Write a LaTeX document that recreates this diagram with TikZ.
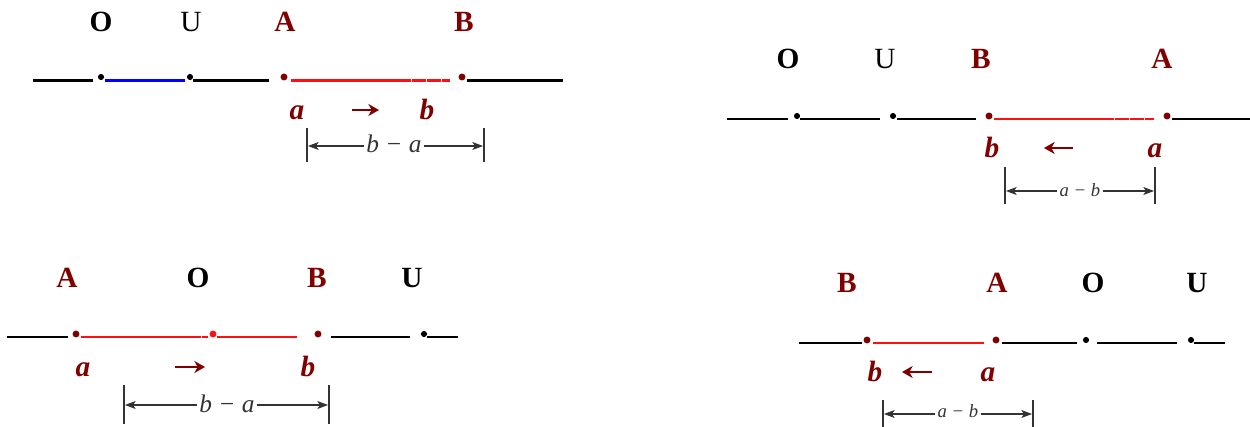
\documentclass[tikz,border=0pt]{standalone}
\usepackage{fontspec}
\setmainfont{Liberation Serif}
\usetikzlibrary{arrows.meta}
\definecolor{maroonA}{HTML}{800000}
\definecolor{segred}{HTML}{FF1010}
\definecolor{dimgray}{HTML}{333333}

\begin{document}
\begin{tikzpicture}[x=0.75pt,y=-0.75pt,
  pt/.style={font=\fontsize{22}{24}\selectfont\bfseries,anchor=base,inner sep=0pt},
  ptr/.style={pt,text=maroonA},
  var/.style={font=\fontsize{22}{24}\selectfont\bfseries\itshape,text=maroonA,anchor=base,inner sep=0pt},
  seg/.style={line width=1.6pt,dash pattern=on 11pt off 0.3pt},
  mv/.style={draw=maroonA,line width=2.1pt,-{Stealth[length=8pt,width=9pt,inset=2.5pt]}},
  dimlab/.style={font=\fontsize{19}{22}\selectfont\itshape,text=dimgray,anchor=base,inner sep=1.5pt},
  dimlabs/.style={dimlab,font=\fontsize{14}{16}\selectfont\itshape},
  dim/.style={draw=dimgray,line width=0.8pt,-{Stealth[length=8pt,width=6pt,inset=2pt]}},
  bar/.style={draw=dimgray,line width=0.9pt}]
\useasboundingbox (0,0) rectangle (1250,427);

% top left: O U A B
\draw[seg] (33,80.5) -- (93,80.5);
\fill (101,77) circle (2.3pt);
\draw[seg,blue] (105,80.5) -- (185,80.5);
\fill (190,77) circle (2.3pt);
\draw[seg] (193,80.5) -- (269,80.5);
\fill[maroonA] (284,77) circle (2.6pt);
\draw[seg,segred] (291,80.5) -- (450,80.5);
\fill[maroonA] (462,77) circle (2.6pt);
\draw[seg] (467,80.5) -- (563,80.5);
\node[pt] (O1) at (101,32) {O};
\node[pt] (U1) at (191,32) {\mdseries U};
\node[ptr] (A1) at (285,32) {A};
\node[ptr] (B1) at (464,32) {B};
\node[var] (a1) at (297,120) {a};
\node[var] (b1) at (427,120) {b};
\coordinate (mv1s) at (352,110);
\coordinate (mv1e) at (379,110);
\draw[mv] (mv1s) -- (mv1e);
\draw[bar] (307,128) -- (307,162);
\draw[bar] (484,128) -- (484,162);
\coordinate (l1) at (308,146);
\coordinate (r1) at (483,146);
\node[dimlab] (d1) at (394,153) {b − a};
\draw[dim] (d1.west |- l1) -- (l1);
\draw[dim] (d1.east |- r1) -- (r1);

% top right: O U B A
\draw[seg] (727,119) -- (788,119);
\fill (797,116) circle (2.3pt);
\draw[seg] (800,119) -- (880,119);
\fill (893,116) circle (2.3pt);
\draw[seg] (897,119) -- (976,119);
\fill[maroonA] (989,116) circle (2.6pt);
\draw[seg,segred] (994,119) -- (1154,119);
\fill[maroonA] (1167,116) circle (2.6pt);
\draw[seg] (1172,119) -- (1250,119);
\node[pt] (O2) at (788,69) {O};
\node[pt] (U2) at (885,69) {\mdseries U};
\node[ptr] (B2) at (981,69) {B};
\node[ptr] (A2) at (1162,69) {A};
\node[var] (b2) at (992,158) {b};
\node[var] (a2) at (1155,158) {a};
\coordinate (mv2s) at (1073,148);
\coordinate (mv2e) at (1044,148);
\draw[mv] (mv2s) -- (mv2e);
\draw[bar] (1005,167) -- (1005,204);
\draw[bar] (1155,167) -- (1155,204);
\coordinate (l2) at (1006,191);
\coordinate (r2) at (1154,191);
\node[dimlabs] (d2) at (1080,197) {a − b};
\draw[dim] (d2.west |- l2) -- (l2);
\draw[dim] (d2.east |- r2) -- (r2);

% bottom left: A O B U
\draw[seg] (7,337) -- (68,337);
\fill[maroonA] (76,334) circle (2.6pt);
\draw[seg,segred] (81,337) -- (208,337);
\fill[segred] (213,334) circle (2.6pt);
\draw[seg,segred] (217,337) -- (297,337);
\fill[maroonA] (318,334) circle (2.6pt);
\draw[seg] (331,337) -- (410,337);
\fill (424,334) circle (2.3pt);
\draw[seg] (427,337) -- (458,337);
\node[ptr] (A3) at (67,288) {A};
\node[pt] (O3) at (198,288) {O};
\node[ptr] (B3) at (317,288) {B};
\node[pt] (U3) at (412,288) {U};
\node[var] (a3) at (83,377) {a};
\node[var] (b3) at (308,377) {b};
\coordinate (mv3s) at (175,367);
\coordinate (mv3e) at (205,367);
\draw[mv] (mv3s) -- (mv3e);
\draw[bar] (124,385) -- (124,424);
\draw[bar] (329,385) -- (329,424);
\coordinate (l3) at (125,405);
\coordinate (r3) at (328,405);
\node[dimlab] (d3) at (227,413) {b − a};
\draw[dim] (d3.west |- l3) -- (l3);
\draw[dim] (d3.east |- r3) -- (r3);

% bottom right: B A O U
\draw[seg] (799,343) -- (862,343);
\fill[maroonA] (867,340) circle (2.6pt);
\draw[seg,segred] (873,343) -- (984,343);
\fill[maroonA] (996,340) circle (2.6pt);
\draw[seg] (1002,343) -- (1077,343);
\fill (1086,340) circle (2.3pt);
\draw[seg] (1097,343) -- (1177,343);
\fill (1191,340) circle (2.3pt);
\draw[seg] (1194,343) -- (1225,343);
\node[ptr] (B4) at (847,293) {B};
\node[ptr] (A4) at (997,293) {A};
\node[pt] (O4) at (1093,293) {O};
\node[pt] (U4) at (1197,293) {U};
\node[var] (b4) at (875,382) {b};
\node[var] (a4) at (988,382) {a};
\coordinate (mv4s) at (932,372);
\coordinate (mv4e) at (902,372);
\draw[mv] (mv4s) -- (mv4e);
\draw[bar] (883,400) -- (883,427);
\draw[bar] (1033,400) -- (1033,427);
\coordinate (l4) at (884,414);
\coordinate (r4) at (1032,414);
\node[dimlabs] (d4) at (958,418) {a − b};
\draw[dim] (d4.west |- l4) -- (l4);
\draw[dim] (d4.east |- r4) -- (r4);
\end{tikzpicture}
\end{document}
